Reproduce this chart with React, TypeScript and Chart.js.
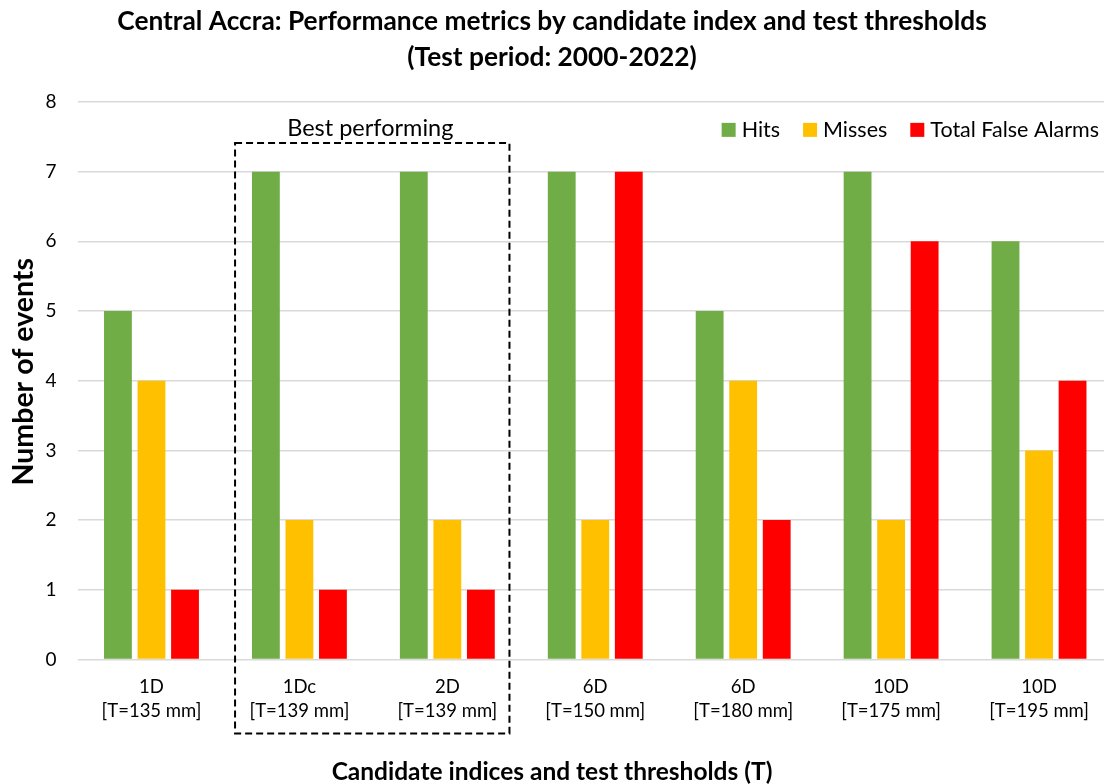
import React, { useEffect, useRef } from "react";
import { Chart, registerables } from "chart.js";

Chart.register(...registerables);

const categories: string[][] = [
  ["1D", "[T=135 mm]"],
  ["1Dc", "[T=139 mm]"],
  ["2D", "[T=139 mm]"],
  ["6D", "[T=150 mm]"],
  ["6D", "[T=180 mm]"],
  ["10D", "[T=175 mm]"],
  ["10D", "[T=195 mm]"],
];
const hits = [5, 7, 7, 7, 5, 7, 6];
const misses = [4, 2, 2, 2, 4, 2, 3];
const falseAlarms = [1, 1, 1, 7, 2, 6, 4];
const yTicks = [0, 1, 2, 3, 4, 5, 6, 7, 8];

const titleLines = [
  "Central Accra: Performance metrics by candidate index and test thresholds",
  "(Test period: 2000-2022)",
];
const xTitle = "Candidate indices and test thresholds (T)";
const yTitle = "Number of events";
const bestLabel = "Best performing";
const bestFrom = 1;
const bestTo = 2;

const FONT = "Lato, 'Open Sans', sans-serif";
const VIEW_W = 1104;

const overlayPlugin = {
  id: "overlay",
  afterDraw(chart: any) {
    const { ctx, chartArea, scales } = chart;
    const x = scales.x;
    const y = scales.y;
    const catW = (chartArea.right - chartArea.left) / categories.length;
    ctx.save();

    // main title (centred on the visible page)
    ctx.fillStyle = "#000";
    ctx.textAlign = "center";
    ctx.textBaseline = "middle";
    ctx.font = `bold 26.3px ${FONT}`;
    ctx.fillText(titleLines[0], VIEW_W / 2, 22);
    ctx.fillText(titleLines[1], VIEW_W / 2, 58);

    // axis titles
    ctx.font = `bold 24.5px ${FONT}`;
    ctx.fillText(xTitle, VIEW_W / 2, chart.height - 12);
    ctx.save();
    ctx.translate(24, (chartArea.top + chartArea.bottom) / 2 - 9);
    ctx.rotate(-Math.PI / 2);
    ctx.font = `bold 28.5px ${FONT}`;
    ctx.fillText(yTitle, 0, 0);
    ctx.restore();

    // dashed box around best performing
    const left = x.getPixelForValue(bestFrom) - catW * 0.435;
    const right = x.getPixelForValue(bestTo) + catW * 0.42;
    const top = y.getPixelForValue(7.41);
    const bottom = chartArea.bottom + 74;
    ctx.strokeStyle = "#000";
    ctx.lineWidth = 2;
    ctx.setLineDash([7, 4]);
    ctx.strokeRect(left, top, right - left, bottom - top);
    ctx.setLineDash([]);
    ctx.fillStyle = "#000";
    ctx.font = `23.5px ${FONT}`;
    ctx.fillText(bestLabel, (left + right) / 2 - 2, y.getPixelForValue(7.62));

    // legend (top right inside the plot)
    const ly = y.getPixelForValue(7.6);
    let cx = 1099;
    const items = chart.data.datasets.slice().reverse();
    ctx.textAlign = "left";
    ctx.font = `21.5px ${FONT}`;
    items.forEach((ds: any) => {
      const w = ctx.measureText(ds.label).width;
      const tx = cx - w;
      ctx.fillStyle = "#000";
      ctx.fillText(ds.label, tx, ly);
      const bx = tx - 6 - 14;
      ctx.fillStyle = ds.backgroundColor;
      ctx.fillRect(bx, ly - 7, 14, 14);
      cx = bx - 23;
    });
    ctx.restore();
  },
};

export default function App() {
  const ref = useRef<HTMLCanvasElement | null>(null);
  useEffect(() => {
    if (!ref.current) return;
    const chart = new Chart(ref.current, {
      type: "bar",
      data: {
        labels: categories,
        datasets: [
          { label: "Hits", data: hits, backgroundColor: "#70AD47" },
          { label: "Misses", data: misses, backgroundColor: "#FFC000" },
          { label: "Total False Alarms", data: falseAlarms, backgroundColor: "#FF0000" },
        ],
      },
      options: {
        animation: false,
        responsive: false,
        maintainAspectRatio: false,
        layout: { padding: { left: 24.5, right: 3, top: 102, bottom: 44.5 } },
        datasets: { bar: { categoryPercentage: 0.68, barPercentage: 0.83 } },
        plugins: {
          legend: { display: false },
          tooltip: { enabled: false },
          title: { display: false },
        },
        scales: {
          x: {
            grid: { display: false, drawTicks: false },
            border: { display: false },
            ticks: {
              color: "#000",
              font: { family: FONT, size: 18.5, lineHeight: 1.3 },
              padding: 16,
              maxRotation: 0,
              autoSkip: false,
            },
            title: { display: false },
          },
          y: {
            min: 0,
            max: 8,
            afterBuildTicks: (s: any) => {
              s.ticks = yTicks.map((v) => ({ value: v }));
            },
            grid: { color: "#D9D9D9", lineWidth: 1.5, drawTicks: false },
            border: { display: false },
            ticks: {
              color: "#000",
              font: { family: FONT, size: 19 },
              padding: 21,
            },
            title: { display: false },
          },
        },
      },
      plugins: [overlayPlugin],
    });
    return () => chart.destroy();
  }, []);
  return (
    <div
      style={{
        position: "fixed",
        left: 0,
        top: 0,
        width: VIEW_W,
        height: 784,
        overflow: "hidden",
        background: "#fff",
      }}
    >
      <canvas ref={ref} width={1116} height={784} style={{ display: "block" }} />
    </div>
  );
}
